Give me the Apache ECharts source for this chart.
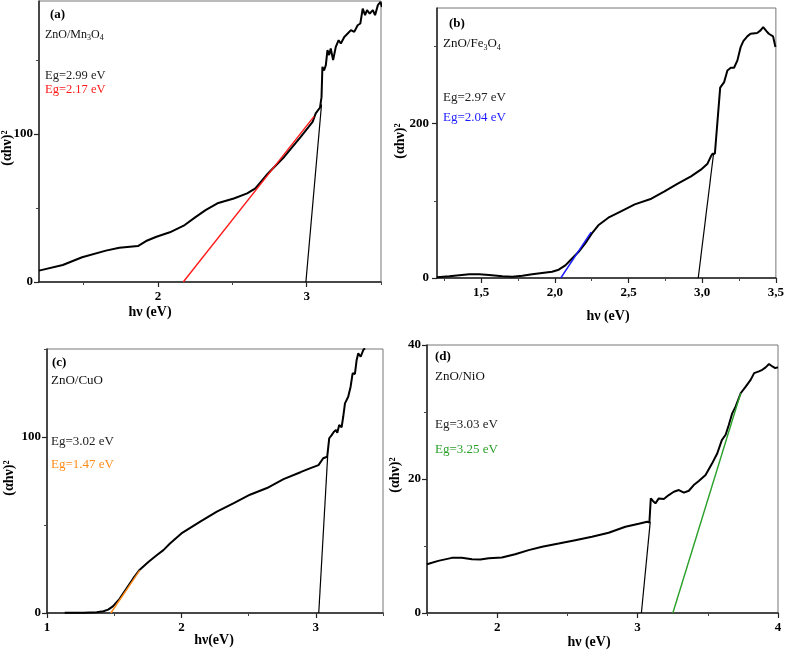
<!DOCTYPE html>
<html><head><meta charset="utf-8">
<script src="https://cdn.jsdelivr.net/npm/echarts@6/dist/echarts.min.js"></script>
<style>html,body{margin:0;padding:0;background:#fff}#c{width:787px;height:650px}</style>
</head><body><div id="c"></div>
<script>
// ---------- Panel (a) ZnO/Mn3O4 ----------
const aX = [1.2, 1.36, 1.49, 1.65, 1.74, 1.865, 1.92, 1.99, 2.08, 2.18, 2.25, 2.32, 2.4, 2.51, 2.6, 2.655, 2.73, 2.85, 2.96, 3.04, 3.061, 3.09, 3.1, 3.106, 3.117, 3.129, 3.14, 3.151, 3.162, 3.178, 3.196, 3.215, 3.23, 3.253, 3.276, 3.298, 3.32, 3.343, 3.361, 3.377, 3.393, 3.406, 3.424, 3.445, 3.46, 3.479, 3.497, 3.506];
const aY = [7.7, 11.5, 16.7, 21.2, 23.2, 24.3, 27.7, 30.6, 33.6, 38.5, 43.7, 48.6, 53.2, 56.5, 59.9, 63.3, 72.3, 84.7, 98.2, 108.3, 114, 118, 125, 145.5, 143, 146.6, 156.8, 153.4, 157.9, 150, 159, 163.5, 161.3, 165.7, 168, 170.3, 169.1, 173.6, 174.8, 184.9, 180.4, 183.8, 181.5, 183.8, 180.4, 187.2, 189.4, 186];
const aFitX = [2.17, 3.05], aFitY = [0, 112];
const aBlkX = [2.995, 3.1], aBlkY = [0, 120];
const aXTicks = [2, 3], aXLabels = ['2', '3'], aXMinor = [1.5, 2.5, 3.5];
const aYTicks = [0, 100], aYLabels = ['0', '100'], aYMinor = [50, 150];

// ---------- Panel (b) ZnO/Fe3O4 ----------
const bX = [1.2, 1.284, 1.352, 1.419, 1.487, 1.554, 1.644, 1.711, 1.779, 1.846, 1.913, 1.981, 2.026, 2.071, 2.115, 2.16, 2.205, 2.25, 2.295, 2.363, 2.452, 2.542, 2.655, 2.744, 2.834, 2.924, 2.991, 3.036, 3.059, 3.07, 3.086, 3.122, 3.149, 3.171, 3.194, 3.216, 3.239, 3.261, 3.279, 3.306, 3.328, 3.373, 3.396, 3.414, 3.436, 3.452, 3.463, 3.481, 3.497];
const bY = [0.9, 2.2, 3.5, 4.8, 4.8, 3.9, 2.2, 1.7, 3.0, 4.8, 6.5, 8.2, 10.8, 16.4, 25, 33.7, 44.5, 57.5, 68.3, 78.2, 86.8, 95.5, 102.8, 112.3, 122.2, 131.7, 140.4, 148.2, 157.7, 161.1, 161.1, 246.7, 254, 269.1, 272.6, 272.6, 282.1, 299.4, 307.1, 313.2, 316.6, 317.5, 321, 325.3, 320.1, 316.6, 317.9, 313.2, 299.4];
const bFitX = [2.04, 2.246], bFitY = [0, 59.6];
const bBlkX = [2.973, 3.077], bBlkY = [0, 161];
const bXTicks = [1.5, 2.0, 2.5, 3.0, 3.5], bXLabels = ['1,5', '2,0', '2,5', '3,0', '3,5'], bXMinor = [1.25, 1.75, 2.25, 2.75, 3.25];
const bYTicks = [0, 200], bYLabels = ['0', '200'], bYMinor = [100, 300];

// ---------- Panel (c) ZnO/CuO ----------
const cX = [1.132, 1.27, 1.37, 1.42, 1.455, 1.49, 1.54, 1.59, 1.64, 1.69, 1.754, 1.816, 1.866, 1.915, 2.0, 2.14, 2.264, 2.39, 2.51, 2.637, 2.76, 2.886, 2.956, 3.02, 3.055, 3.085, 3.1, 3.118, 3.135, 3.15, 3.16, 3.174, 3.192, 3.204, 3.217, 3.241, 3.259, 3.274, 3.291, 3.304, 3.316, 3.334, 3.353, 3.366];
const cY = [0.2, 0.2, 0.4, 1, 1.9, 3.8, 8, 13.7, 19.5, 24.6, 29, 32.8, 35.7, 39.5, 45.2, 51.9, 57.6, 62.4, 67.2, 71, 76.1, 80, 82.2, 84, 87.9, 88.8, 99.3, 101.1, 103, 104, 102.4, 106.8, 105.5, 111.5, 119.1, 122.9, 128.6, 136.2, 135.8, 143.8, 147.6, 145.6, 149.4, 150.4];
const cFitX = [1.475, 1.69], cFitY = [0, 24.2];
const cBlkX = [3.022, 3.088], cBlkY = [0, 88.8];
const cXTicks = [1, 2, 3], cXLabels = ['1', '2', '3'], cXMinor = [1.5, 2.5, 3.5];
const cYTicks = [0, 100], cYLabels = ['0', '100'], cYMinor = [50, 150];

// ---------- Panel (d) ZnO/NiO ----------
const dX = [1.5, 1.58, 1.677, 1.748, 1.82, 1.88, 1.94, 2.033, 2.128, 2.224, 2.32, 2.438, 2.556, 2.675, 2.794, 2.913, 3.008, 3.068, 3.084, 3.094, 3.108, 3.127, 3.151, 3.187, 3.222, 3.258, 3.294, 3.33, 3.365, 3.4, 3.436, 3.484, 3.53, 3.567, 3.6, 3.627, 3.65, 3.674, 3.698, 3.734, 3.77, 3.805, 3.83, 3.864, 3.888, 3.912, 3.936, 3.96, 3.98, 4.0];
const dY = [7.28, 7.78, 8.23, 8.23, 8.03, 7.98, 8.18, 8.28, 8.78, 9.38, 9.88, 10.37, 10.87, 11.37, 11.97, 12.87, 13.32, 13.62, 13.5, 17.1, 16.76, 16.36, 17.1, 17.0, 17.6, 18.1, 18.35, 17.96, 18.25, 19.1, 19.7, 20.6, 22.3, 23.8, 25.8, 26.6, 28.1, 29.8, 30.8, 32.8, 33.8, 34.8, 35.8, 36.06, 36.3, 36.66, 37.16, 36.8, 36.56, 36.66];
const dFitX = [3.251, 3.734], dFitY = [0, 32.8];
const dBlkX = [3.027, 3.09], dBlkY = [0, 13.6];
const dXTicks = [2, 3, 4], dXLabels = ['2', '3', '4'], dXMinor = [1.5, 2.5, 3.5];
const dYTicks = [0, 20, 40], dYLabels = ['0', '20', '40'], dYMinor = [10, 30];

const FONT = 'Liberation Serif';
function zip(xs, ys) { return xs.map((x, i) => [x, ys[i]]); }
function labeler(ticks, labels) {
  return v => { const k = ticks.findIndex(t => Math.abs(t - v) < 1e-9); return k >= 0 ? labels[k] : ''; };
}

const panels = [
  { grid: {left: 39, top: 1, width: 342, height: 281}, xr: [1.2, 3.5], yr: [0, 190],
    xT: aXTicks, xL: aXLabels, xM: aXMinor, yT: aYTicks, yL: aYLabels, yM: aYMinor,
    cur: [aX, aY], blk: [aBlkX, aBlkY], fit: [aFitX, aFitY], color: '#ff1a1a', ym: 6, xm: 8 },
  { grid: {left: 437, top: 8, width: 341, height: 270}, xr: [1.2, 3.5], yr: [0, 350],
    xT: bXTicks, xL: bXLabels, xM: bXMinor, yT: bYTicks, yL: bYLabels, yM: bYMinor,
    cur: [bX, bY], blk: [bBlkX, bBlkY], fit: [bFitX, bFitY], color: '#1a1aff', ym: 8, xm: 8 },
  { grid: {left: 47, top: 349, width: 336, height: 264}, xr: [1, 3.5], yr: [0, 150],
    xT: cXTicks, xL: cXLabels, xM: cXMinor, yT: cYTicks, yL: cYLabels, yM: cYMinor,
    cur: [cX, cY], blk: [cBlkX, cBlkY], fit: [cFitX, cFitY], color: '#ff8c1a', ym: 6, xm: 8 },
  { grid: {left: 427, top: 345, width: 351, height: 268}, xr: [1.5, 4], yr: [0, 40],
    xT: dXTicks, xL: dXLabels, xM: dXMinor, yT: dYTicks, yL: dYLabels, yM: dYMinor,
    cur: [dX, dY], blk: [dBlkX, dBlkY], fit: [dFitX, dFitY], color: '#2ca02c', ym: 6, xm: 8 }
];

const grid = [], xAxis = [], yAxis = [], series = [];
const lblStyle = { fontFamily: FONT, fontWeight: 'bold', fontSize: 13, color: '#000' };
panels.forEach((p, i) => {
  grid.push(Object.assign({ show: true, borderColor: '#777', borderWidth: 1, backgroundColor: 'transparent' }, p.grid));
  xAxis.push({ type: 'value', gridIndex: i, min: p.xr[0], max: p.xr[1], position: 'bottom',
    axisLine: { onZero: false, lineStyle: { color: '#222', width: 1.5 } },
    axisTick: { show: true, inside: false, length: 5, customValues: p.xT, lineStyle: { color: '#222', width: 1.2 } },
    axisLabel: Object.assign({ customValues: p.xT, formatter: labeler(p.xT, p.xL), margin: p.xm }, lblStyle),
    splitLine: { show: false } });
  xAxis.push({ type: 'value', gridIndex: i, min: p.xr[0], max: p.xr[1], position: 'bottom',
    axisLine: { show: false, onZero: false },
    axisTick: { show: true, inside: false, length: 3, customValues: p.xM, lineStyle: { color: '#444', width: 1 } },
    axisLabel: { show: false }, splitLine: { show: false } });
  yAxis.push({ type: 'value', gridIndex: i, min: p.yr[0], max: p.yr[1], position: 'left',
    axisLine: { onZero: false, lineStyle: { color: '#222', width: 1.5 } },
    axisTick: { show: true, inside: false, length: 5, customValues: p.yT, lineStyle: { color: '#222', width: 1.2 } },
    axisLabel: Object.assign({ customValues: p.yT, formatter: labeler(p.yT, p.yL), margin: p.ym }, lblStyle),
    splitLine: { show: false } });
  yAxis.push({ type: 'value', gridIndex: i, min: p.yr[0], max: p.yr[1], position: 'left',
    axisLine: { show: false, onZero: false },
    axisTick: { show: true, inside: false, length: 3, customValues: p.yM, lineStyle: { color: '#444', width: 1 } },
    axisLabel: { show: false }, splitLine: { show: false } });
  const base = { type: 'line', xAxisIndex: 2 * i, yAxisIndex: 2 * i, showSymbol: false, symbol: 'none', clip: true, animation: false };
  series.push(Object.assign({}, base, { data: zip(p.cur[0], p.cur[1]), lineStyle: { color: '#000', width: 2 }, z: 3 }));
  series.push(Object.assign({}, base, { data: zip(p.blk[0], p.blk[1]), lineStyle: { color: '#000', width: 1.2 }, z: 2 }));
  series.push(Object.assign({}, base, { data: zip(p.fit[0], p.fit[1]), lineStyle: { color: p.color, width: 1.4 }, z: 4 }));
});

function txt(x, y, text, opt) {
  return { type: 'text', x: x, y: y, z: 100, style: Object.assign({ text: text, fontFamily: FONT, fontSize: 13, fill: '#000', align: 'left', verticalAlign: 'middle' }, opt || {}) };
}
function chem(x, y, text, size) {
  return { type: 'text', x: x, y: y, z: 100, style: { text: text, align: 'left', verticalAlign: 'middle',
    rich: { m: { fontFamily: FONT, fontSize: size, fill: '#111', lineHeight: size + 2 },
            s: { fontFamily: FONT, fontSize: Math.round(size * 0.65), fill: '#111', lineHeight: Math.round(size * 0.65), verticalAlign: 'bottom' } } } };
}
function yName(x, y) {
  return { type: 'text', x: x, y: y, rotation: Math.PI / 2, z: 100,
    style: { text: '(αhν)²', fontFamily: FONT, fontWeight: 'bold', fontSize: 14, fill: '#000', align: 'center', verticalAlign: 'middle' } };
}
function xName(x, y, t) {
  return txt(x, y, t, { fontWeight: 'bold', fontSize: 14, align: 'center' });
}

const graphic = [
  // (a)
  txt(50, 15, '(a)', { fontWeight: 'bold' }),
  chem(45, 35, '{m|ZnO/Mn}{s|3}{m|O}{s|4}', 12),
  txt(45, 76, 'Eg=2.99 eV', { fontSize: 12.5, fill: '#222' }),
  txt(45, 90, 'Eg=2.17 eV', { fontSize: 12.5, fill: '#ff1a1a' }),
  yName(7, 148), xName(150, 312, 'hν (eV)'),
  // (b)
  txt(449, 24, '(b)', { fontWeight: 'bold' }),
  chem(443, 44, '{m|ZnO/Fe}{s|3}{m|O}{s|4}', 13),
  txt(443, 98, 'Eg=2.97 eV', { fill: '#222' }),
  txt(443, 118, 'Eg=2.04 eV', { fill: '#1a1aff' }),
  yName(400, 141), xName(608, 316, 'hν (eV)'),
  // (c)
  txt(52, 363, '(c)', { fontWeight: 'bold' }),
  chem(51, 381, '{m|ZnO/CuO}', 13),
  txt(51, 442, 'Eg=3.02 eV', { fill: '#222' }),
  txt(51, 465, 'Eg=1.47 eV', { fill: '#ff8c1a' }),
  yName(9, 478), xName(214, 640, 'hν(eV)'),
  // (d)
  txt(435, 357, '(d)', { fontWeight: 'bold' }),
  chem(435, 377, '{m|ZnO/NiO}', 13),
  txt(435, 425, 'Eg=3.03 eV', { fill: '#222' }),
  txt(435, 450, 'Eg=3.25 eV', { fill: '#2ca02c' }),
  yName(395, 475), xName(589, 642, 'hν (eV)')
];

const chart = echarts.init(document.getElementById('c'), null, { renderer: 'canvas' });
chart.setOption({ animation: false, backgroundColor: '#fff', grid, xAxis, yAxis, series, graphic });
</script></body></html>
